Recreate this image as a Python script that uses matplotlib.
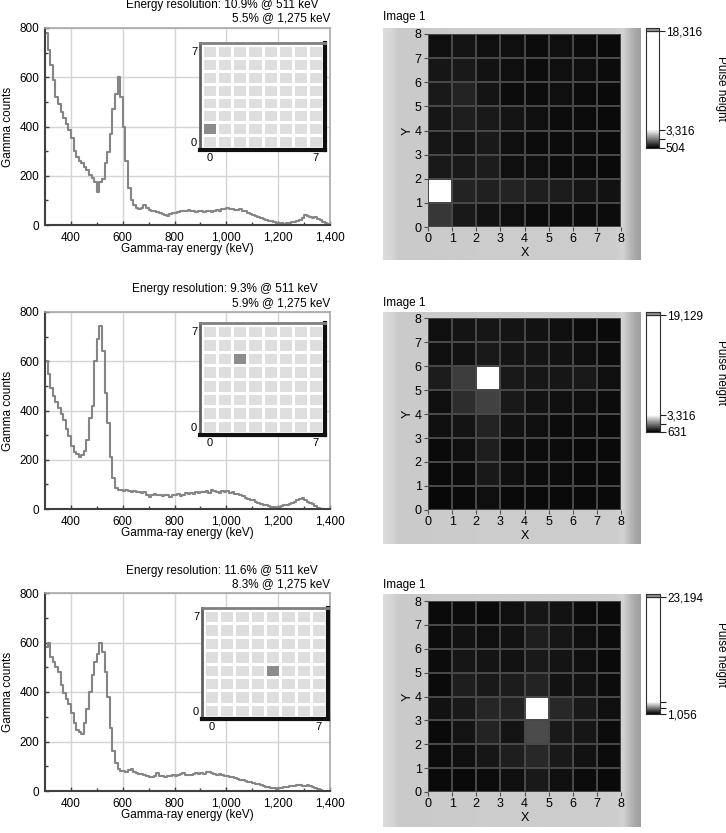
import numpy as np
import matplotlib
matplotlib.use("Agg")
import matplotlib.pyplot as plt
from matplotlib.colors import ListedColormap

plt.rcParams['font.family'] = ['Liberation Sans', 'DejaVu Sans']
plt.rcParams['font.size'] = 8.5

W, H = 726, 833

# energy resolution text
res_511 = ["10.9%", "9.3%", "11.6%"]
res_1275 = ["5.5%", "5.9%", "8.3%"]

# gamma counts, 10 keV bins starting at 300 keV
spec1 = [780, 710, 650, 590, 520, 490, 460, 435, 410, 385,
         355, 300, 275, 260, 250, 235, 225, 205, 190, 175,
         135, 175, 185, 250, 295, 370, 470, 530, 600, 520,
         400, 260, 150, 100, 80, 70, 65, 70, 80, 70,
         60, 58, 55, 52, 48, 46, 42, 35, 45, 50,
         50, 52, 55, 58, 55, 60, 55, 58, 52, 55,
         55, 52, 55, 58, 52, 58, 62, 58, 64, 66,
         68, 64, 66, 60, 62, 64, 58, 55, 50, 46,
         42, 38, 34, 30, 26, 22, 18, 15, 12, 10,
         8, 7, 6, 8, 10, 12, 14, 15, 20, 28,
         40, 38, 32, 30, 32, 26, 20, 14, 8, 3]

spec2 = [600, 550, 490, 460, 435, 410, 385, 360, 325, 295,
         255, 230, 222, 212, 220, 235, 280, 370, 420, 600,
         690, 745, 640, 470, 350, 210, 125, 85, 78, 76,
         75, 77, 72, 70, 72, 68, 70, 65, 68, 58,
         50, 55, 60, 55, 58, 52, 55, 58, 50, 57,
         55, 60, 52, 58, 64, 62, 66, 62, 68, 65,
         70, 68, 72, 65, 78, 72, 70, 66, 74, 70,
         72, 66, 68, 62, 60, 55, 52, 45, 42, 38,
         35, 30, 26, 22, 18, 15, 14, 10, 8, 6,
         8, 12, 15, 18, 22, 25, 30, 35, 40, 44,
         35, 30, 25, 20, 12, 6, 2, 0]

spec3 = [580, 600, 540, 520, 500, 480, 430, 395, 370, 350,
         315, 275, 245, 240, 230, 275, 330, 400, 470, 520,
         555, 600, 560, 480, 380, 255, 160, 115, 88, 82,
         80, 78, 85, 90, 75, 72, 70, 68, 65, 60,
         55, 58, 62, 72, 62, 60, 58, 60, 62, 66,
         62, 65, 70, 72, 65, 66, 64, 70, 72, 68,
         74, 70, 76, 78, 72, 70, 66, 68, 64, 62,
         60, 58, 55, 52, 50, 46, 45, 42, 38, 35,
         32, 30, 28, 24, 22, 18, 16, 14, 12, 10,
         11, 14, 16, 18, 20, 21, 22, 24, 23, 22,
         22, 24, 20, 16, 12, 7, 3, 0]

# pulse height per pixel, rows from Y=7 (top) down to Y=0
pulse1 = [[669, 725, 669, 669, 636, 669, 636, 614],
          [747, 780, 703, 669, 636, 669, 669, 636],
          [780, 890, 725, 636, 636, 669, 636, 614],
          [747, 835, 780, 725, 669, 636, 636, 614],
          [747, 725, 780, 669, 636, 636, 636, 614],
          [780, 780, 813, 669, 669, 636, 636, 614],
          [18316, 890, 857, 890, 835, 813, 747, 703],
          [1111, 780, 703, 669, 636, 636, 636, 636]]

pulse2 = [[789, 842, 863, 842, 821, 789, 757, 736],
          [789, 821, 894, 842, 842, 821, 789, 757],
          [926, 1263, 19129, 894, 863, 863, 894, 789],
          [789, 1105, 1315, 894, 821, 789, 789, 757],
          [789, 842, 1000, 821, 789, 757, 757, 736],
          [736, 789, 947, 757, 757, 757, 736, 736],
          [736, 757, 894, 789, 757, 757, 736, 736],
          [715, 736, 789, 736, 736, 736, 736, 736]]

pulse3 = [[1145, 1162, 1145, 1189, 1251, 1215, 1162, 1145],
          [1162, 1215, 1189, 1215, 1322, 1251, 1189, 1162],
          [1162, 1251, 1233, 1215, 1278, 1233, 1189, 1145],
          [1145, 1322, 1278, 1304, 1366, 1215, 1215, 1162],
          [1215, 1278, 1393, 1366, 23194, 1410, 1278, 1189],
          [1145, 1233, 1366, 1233, 1721, 1278, 1251, 1162],
          [1162, 1189, 1251, 1322, 1410, 1278, 1215, 1162],
          [1145, 1145, 1162, 1189, 1278, 1189, 1162, 1145]]

scale_lo = [504, 631, 1056]
scale_hi = [18316, 19129, 23194]
scale_mid = 3316

spectra = [spec1, spec2, spec3]
pulses = [pulse1, pulse2, pulse3]


def box(l, t, r, b):
    return [l / W, 1 - b / H, (r - l) / W, (b - t) / H]


def fmt(v):
    return "{:,}".format(v)


fig = plt.figure(figsize=(W / 100, H / 100), dpi=100)

# layout in pixels
spec_box = [(45, 28, 330, 225), (45, 312, 330, 509), (45, 593, 330, 791)]
inset_box = [(200, 43, 325, 150), (200, 323, 325, 435), (202, 608, 328, 719)]
title_y = [(5, 18), (289, 303), (571, 584)]
panel_box = [(383, 28, 640, 260), (383, 312, 640, 544), (383, 594, 640, 827)]
map_box = [(428, 34, 621, 227), (428, 318, 621, 510), (428, 601, 621, 792)]
cbar_box = [(646, 28, 659, 148), (646, 312, 660, 432), (646, 594, 660, 714)]
img_label_y = [17, 303, 585]
pulse_label_y = [88, 372, 654]

for i in range(3):
    counts = np.array(spectra[i])
    energy = 305 + 10 * np.arange(len(counts))

    ax = fig.add_axes(box(*spec_box[i]))
    ax.step(energy, counts, where='mid', color='#858585', lw=1.5)
    ax.set_xlim(300, 1400)
    ax.set_ylim(0, 800)
    ax.set_xticks([400, 600, 800, 1000, 1200, 1400])
    ax.set_xticklabels([fmt(v) for v in [400, 600, 800, 1000, 1200, 1400]])
    ax.set_xticks([500, 700, 900, 1100, 1300], minor=True)
    ax.set_yticks([0, 200, 400, 600, 800])
    ax.set_yticks([100, 300, 500, 700], minor=True)
    ax.grid(True, which='major', color='#d4d4d4', lw=1)
    ax.set_axisbelow(True)
    ax.tick_params(which='major', direction='in', length=3, width=1, color='#404040', pad=5)
    ax.tick_params(which='minor', direction='in', length=2, width=1, color='#404040')
    ax.tick_params(axis='y', pad=4)
    for s in ['left', 'bottom']:
        ax.spines[s].set_color('#404040')
        ax.spines[s].set_linewidth(1.5)
    for s in ['top', 'right']:
        ax.spines[s].set_color('#a8a8a8')
        ax.spines[s].set_linewidth(1.2)

    l, t, r, b = spec_box[i]
    fig.text(8 / W, 1 - (t + b) / 2 / H, "Gamma counts", rotation=90, ha='center', va='center')
    fig.text((l + r) / 2 / W, 1 - (b + 24) / H, "Gamma-ray energy (keV)", ha='center', va='center')
    fig.text(318 / W, 1 - title_y[i][0] / H, "Energy resolution: " + res_511[i] + " @ 511 keV",
             ha='right', va='center')
    fig.text(330 / W, 1 - title_y[i][1] / H, res_1275[i] + " @ 1,275 keV", ha='right', va='center')

    grid = np.flipud(np.array(pulses[i], dtype=float))
    iy, ix = np.unravel_index(np.argmax(grid), grid.shape)

    # detector position inset
    mask = np.zeros((8, 8))
    mask[iy, ix] = 1
    axi = fig.add_axes(box(*inset_box[i]))
    axi.set_facecolor('white')
    axi.pcolormesh(np.arange(9) - 0.5, np.arange(9) - 0.5, mask,
                   cmap=ListedColormap(['#dedede', '#8c8c8c']), vmin=0, vmax=1,
                   edgecolors='white', linewidth=1.8)
    axi.set_xlim(-0.62, 7.62)
    axi.set_ylim(-0.62, 7.62)
    axi.set_xticks([0, 7])
    axi.set_yticks([0, 7])
    axi.tick_params(length=0, pad=2, labelsize=8)
    axi.spines['left'].set_color('#606060')
    axi.spines['top'].set_color('#808080')
    axi.spines['left'].set_linewidth(2)
    axi.spines['top'].set_linewidth(2)
    axi.spines['right'].set_color('#101010')
    axi.spines['bottom'].set_color('#101010')
    axi.spines['right'].set_linewidth(3)
    axi.spines['bottom'].set_linewidth(3)

    # gray panel behind the intensity graph
    pl, pt, pr, pb = panel_box[i]
    axp = fig.add_axes(box(*panel_box[i]))
    shade = np.interp(np.linspace(0, 1, 300),
                      [0, 0.03, 0.06, 0.5, 0.9, 0.93, 0.97, 1.0],
                      [0.86, 0.84, 0.79, 0.80, 0.80, 0.83, 0.68, 0.62])
    axp.imshow(shade[None, :], cmap='gray', vmin=0, vmax=1, aspect='auto',
               extent=[0, 1, 0, 1])
    axp.axis('off')

    lo, hi = scale_lo[i], scale_hi[i]
    axm = fig.add_axes(box(*map_box[i]))
    axm.pcolormesh(np.arange(9), np.arange(9), grid, cmap='gray', vmin=lo, vmax=scale_mid,
                   edgecolors='#484848', linewidth=1.2)
    axm.set_xlim(0, 8)
    axm.set_ylim(0, 8)
    axm.set_xticks(range(9))
    axm.set_yticks(range(9))
    axm.tick_params(direction='out', length=3, width=0.8, color='#505050', pad=1.5, labelsize=9)
    for s in axm.spines.values():
        s.set_visible(False)
    axm.set_xlabel("X", fontsize=9, labelpad=1)
    axm.set_ylabel("Y", fontsize=9, labelpad=1)
    fig.text(pl / W, 1 - img_label_y[i] / H, "Image 1", ha='left', va='center')

    # colour scale
    axc = fig.add_axes(box(*cbar_box[i]))
    band = 0.03 * (hi - lo)
    vals = np.linspace(lo, hi, 400)
    axc.pcolormesh([0, 1], vals, vals[:-1, None], cmap='gray', vmin=lo, vmax=scale_mid)
    axc.axhspan(hi, hi + band, color='#909090')
    axc.axhline(hi, color='#303030', lw=0.8)
    axc.set_ylim(lo, hi + band)
    axc.set_xlim(0, 1)
    axc.set_xticks([])
    axc.yaxis.tick_right()
    axc.set_yticks([lo, scale_mid, hi])
    labels = [fmt(lo), fmt(scale_mid), fmt(hi)]
    if i == 2:
        labels[1] = ""
    axc.set_yticklabels(labels)
    axc.set_yticks([(lo + scale_mid) / 2], minor=True)
    axc.tick_params(which='both', direction='out', length=4, width=0.8, color='#202020', pad=1)
    for s in axc.spines.values():
        s.set_color('#303030')
        s.set_linewidth(0.8)
    fig.text(721 / W, 1 - pulse_label_y[i] / H, "Pulse height", rotation=270,
             ha='center', va='center')

fig.savefig("out.png", dpi=100)
